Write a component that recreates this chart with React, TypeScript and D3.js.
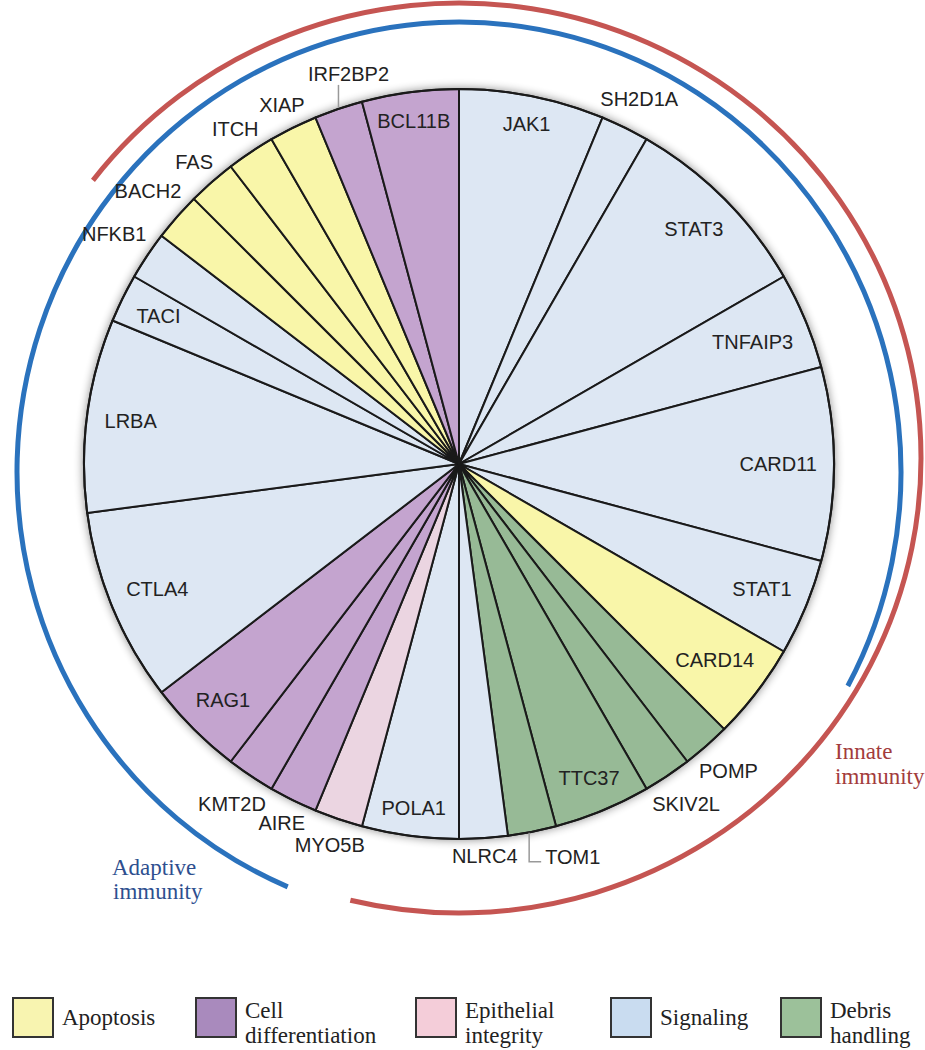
import React from "react";
import * as d3 from "d3";

// genes clockwise from 12 o'clock
const genes = [
  "JAK1", "SH2D1A", "STAT3", "TNFAIP3", "CARD11", "STAT1", "CARD14",
  "POMP", "SKIV2L", "TTC37", "TOM1", "NLRC4", "POLA1", "MYO5B", "AIRE",
  "KMT2D", "RAG1", "CTLA4", "LRBA", "TACI", "NFKB1", "BACH2", "FAS",
  "ITCH", "XIAP", "IRF2BP2", "BCL11B",
];
const counts = [3, 1, 4, 2, 4, 2, 2, 1, 1, 2, 1, 1, 2, 1, 1, 1, 2, 4, 4, 1, 1, 1, 1, 1, 1, 1, 2];
const groups = [
  "sig", "sig", "sig", "sig", "sig", "sig", "apo",
  "deb", "deb", "deb", "deb", "sig", "sig", "epi", "cell",
  "cell", "cell", "sig", "sig", "sig", "sig", "apo", "apo",
  "apo", "apo", "cell", "cell",
];
// where the gene name goes: inside the slice, outside, or outside with a leader line
const labelMode = [
  "in", "out", "in", "in", "in", "in", "in",
  "out", "out", "in", "lead", "out", "in", "out", "out",
  "out", "in", "in", "in", "in", "out", "out", "out",
  "out", "out", "lead", "in",
];

const legendKeys = ["apo", "cell", "epi", "sig", "deb"];
const legendNames = [["Apoptosis"], ["Cell", "differentiation"], ["Epithelial", "integrity"], ["Signaling"], ["Debris", "handling"]];

const sliceFill = { apo: "#f9f6a9", cell: "#c4a4cf", epi: "#ebd5e1", sig: "#dde7f3", deb: "#97ba96" };
const legendFill = { apo: "#f8f4b0", cell: "#a98abd", epi: "#f4cdd9", sig: "#c9dcf0", deb: "#9cc19a" };

const cx = 459;
const cy = 464;
const R = 375;
const deg = Math.PI / 180;
const sans = "'Liberation Sans', Arial, sans-serif";
const serif = "'Liberation Serif', 'Times New Roman', serif";

// elliptical bracket arc, angles in degrees clockwise from 12 o'clock
function bracket(ecx, ecy, rx, ry, a0, a1) {
  const pt = (a) => [ecx + rx * Math.sin(a * deg), ecy - ry * Math.cos(a * deg)];
  const [x0, y0] = pt(a0);
  const [xm, ym] = pt((a0 + a1) / 2);
  const [x1, y1] = pt(a1);
  return `M${x0},${y0}A${rx},${ry} 0 0 1 ${xm},${ym}A${rx},${ry} 0 0 1 ${x1},${y1}`;
}

let ctx = null;
function textWidth(s) {
  if (!ctx && typeof document !== "undefined") {
    ctx = document.createElement("canvas").getContext("2d");
  }
  if (ctx) {
    ctx.font = `20px ${sans}`;
    return ctx.measureText(s).width;
  }
  return s.length * 12;
}

export default function App() {
  const rows = genes.map((g, i) => ({ gene: g, n: counts[i], grp: groups[i], mode: labelMode[i] }));
  const pie = d3.pie().value((d) => d.n).sort(null).startAngle(0).endAngle(2 * Math.PI);
  const arcs = pie(rows);
  const arc = d3.arc().innerRadius(0).outerRadius(R);
  const legendX = [13, 196, 416, 611, 781];

  return (
    <svg width={925} height={1050} style={{ position: "absolute", left: 0, top: 0, background: "#fff" }}>
      <defs>
        <filter id="shadow" x="-20%" y="-20%" width="140%" height="140%">
          <feGaussianBlur stdDeviation="5" />
        </filter>
      </defs>

      {/* outer group brackets */}
      <path d={bracket(459, 458, 462, 455, 307.6, 553.6)} fill="none" stroke="#c55552" strokeWidth={5} />
      <path d={bracket(459, 472, 442, 450, 202.8, 478.4)} fill="none" stroke="#2a72bd" strokeWidth={5} />

      <circle cx={cx} cy={cy} r={R + 1} fill="#000" opacity={0.45} filter="url(#shadow)" />

      <g transform={`translate(${cx},${cy})`}>
        {arcs.map((a, i) => (
          <path key={i} d={arc(a)} fill={sliceFill[a.data.grp]} stroke="#1a1a1a" strokeWidth={2} strokeLinejoin="round" />
        ))}
        <circle r={R} fill="none" stroke="#1a1a1a" strokeWidth={2} />
      </g>

      {arcs.map((a, i) => {
        const mid = (a.startAngle + a.endAngle) / 2;
        const d = a.data;
        if (d.mode === "lead") {
          const ex = cx + R * Math.sin(mid);
          const ey = cy - R * Math.cos(mid);
          if (ey < cy) {
            return (
              <g key={i}>
                <path d={`M${ex},${ey - 1}V${ey - 24}`} stroke="#999" strokeWidth={1.5} fill="none" />
                <text x={ex + 10} y={ey - 35} textAnchor="middle" dy="0.35em" fontFamily={sans} fontSize={20} fill="#222">{d.gene}</text>
              </g>
            );
          }
          return (
            <g key={i}>
              <path d={`M${ex - 3},${ey + 1}V${ey + 30}H${ex + 9}`} stroke="#999" strokeWidth={1.5} fill="none" />
              <text x={ex + 13} y={ey + 25} dy="0.35em" fontFamily={sans} fontSize={20} fill="#222">{d.gene}</text>
            </g>
          );
        }
        const hw = textWidth(d.gene) / 2;
        const hh = 7;
        const s = Math.abs(Math.sin(mid));
        const c = Math.abs(Math.cos(mid));
        const r = d.mode === "in" ? 358 - hw * s - hh * c : 384 + hw * s + hh * c;
        return (
          <text key={i} x={cx + r * Math.sin(mid)} y={cy - r * Math.cos(mid)} textAnchor="middle" dy="0.35em"
            fontFamily={sans} fontSize={20} fill="#222">{d.gene}</text>
        );
      })}

      <text fontFamily={serif} fontSize={23} fill="#2e4f8f">
        <tspan x={112} y={875}>Adaptive</tspan>
        <tspan x={113} y={899}>immunity</tspan>
      </text>
      <text fontFamily={serif} fontSize={23} fill="#a33c3c">
        <tspan x={835} y={759}>Innate</tspan>
        <tspan x={835} y={784}>immunity</tspan>
      </text>

      {legendKeys.map((k, i) => {
        const x = legendX[i];
        const lines = legendNames[i];
        return (
          <g key={k}>
            <rect x={x} y={998} width={40} height={39} fill={legendFill[k]} stroke="#333" strokeWidth={2} />
            {lines.length === 1 ? (
              <text x={x + 49} y={1025} fontFamily={serif} fontSize={23} fill="#222">{lines[0]}</text>
            ) : (
              <text fontFamily={serif} fontSize={23} fill="#222">
                <tspan x={x + 49} y={1018}>{lines[0]}</tspan>
                <tspan x={x + 49} y={1043}>{lines[1]}</tspan>
              </text>
            )}
          </g>
        );
      })}
    </svg>
  );
}
